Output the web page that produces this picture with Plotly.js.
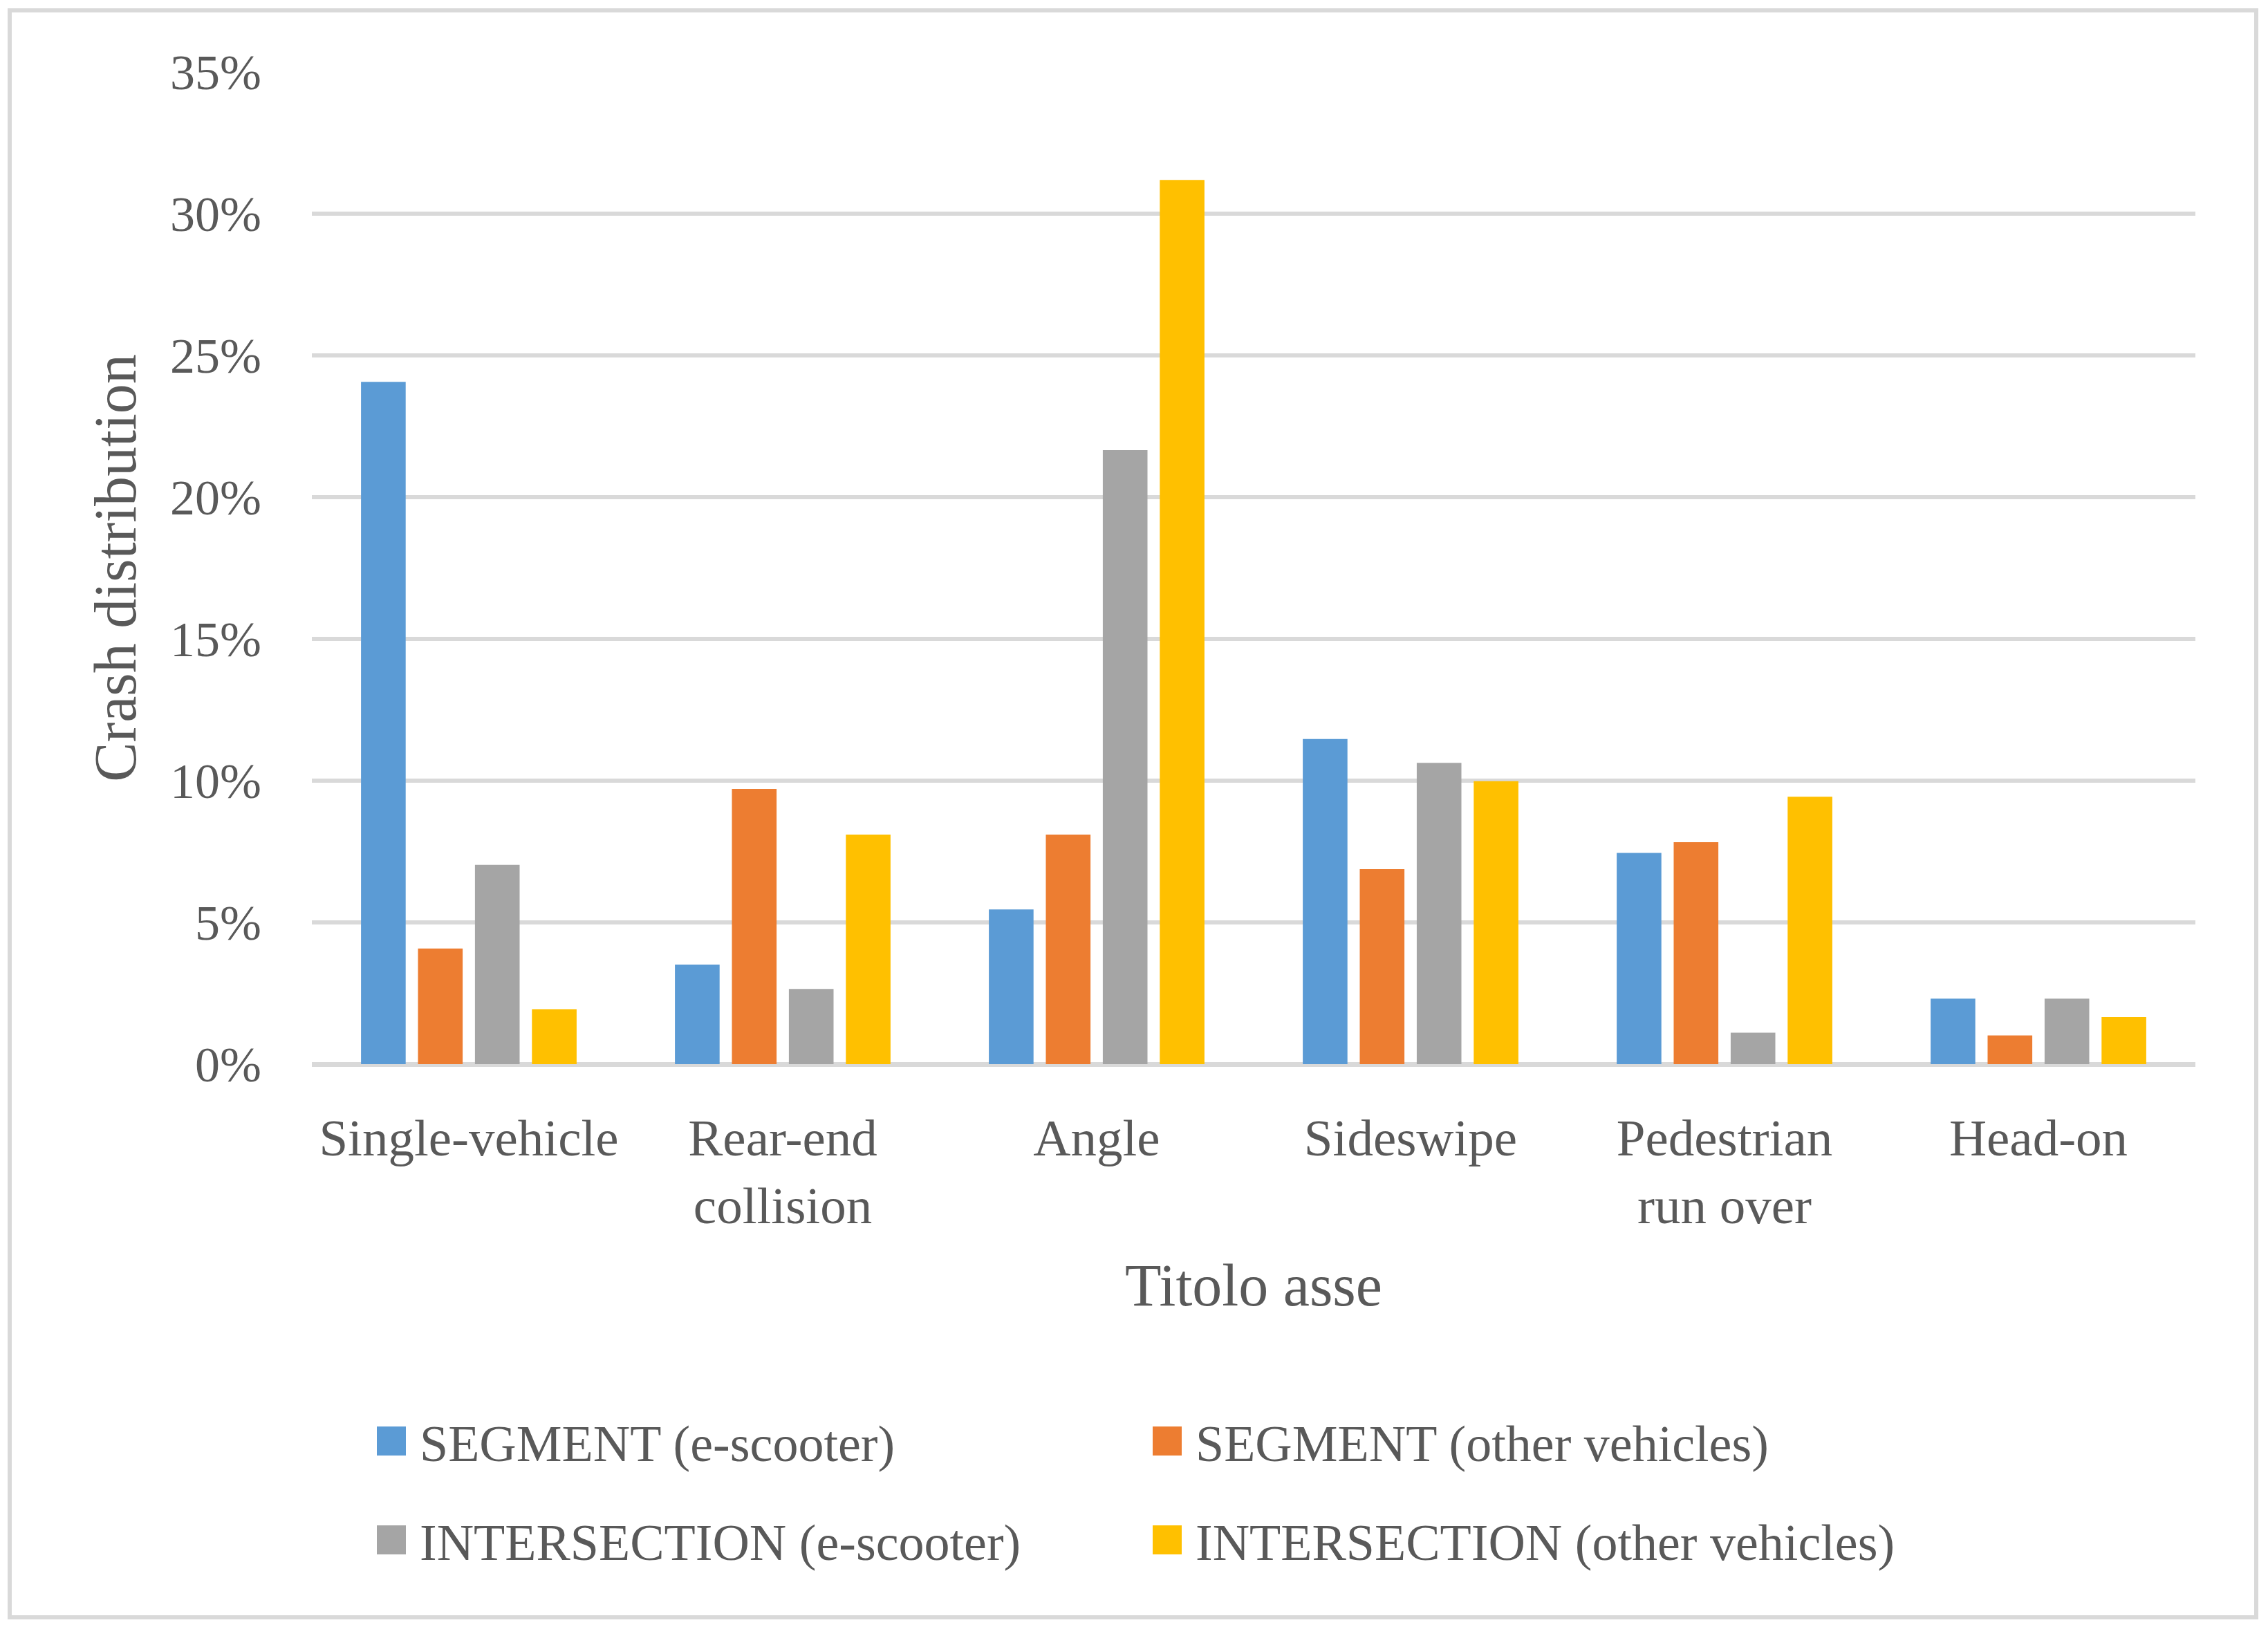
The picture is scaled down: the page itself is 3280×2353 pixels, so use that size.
<!DOCTYPE html>
<html>
<head>
<meta charset="utf-8">
<script src="https://cdn.plot.ly/plotly-3.0.1.min.js"></script>
<style>
  html, body { margin: 0; padding: 0; background: #ffffff; }
  #chart { width: 3280px; height: 2353px; }
</style>
</head>
<body>
<div id="chart"></div>
<script>
// ---- data (percent) ----
const categories = ['Single-vehicle', 'Rear-end<br>collision', 'Angle', 'Sideswipe', 'Pedestrian<br>run over', 'Head-on'];
const seriesNames = ['SEGMENT (e-scooter)', 'SEGMENT (other vehicles)', 'INTERSECTION (e-scooter)', 'INTERSECTION (other vehicles)'];
const segmentEscooter = [24.07, 3.51, 5.46, 11.47, 7.45, 2.31];
const segmentOther = [4.08, 9.71, 8.10, 6.88, 7.83, 1.01];
const intersectionEscooter = [7.03, 2.65, 21.66, 10.63, 1.11, 2.31];
const intersectionOther = [1.94, 8.10, 31.19, 9.98, 9.43, 1.66];
const yTickValues = [0, 5, 10, 15, 20, 25, 30, 35];
const yTickLabels = ['0%', '5%', '10%', '15%', '20%', '25%', '30%', '35%'];
const xAxisTitle = 'Titolo asse';
const yAxisTitle = 'Crash distribution';

// ---- style ----
const colors = ['#5B9BD5', '#ED7D31', '#A5A5A5', '#FFC000'];
const textColor = '#595959';
const gridColor = '#D9D9D9';
const fontFamily = '"Liberation Serif", "Times New Roman", serif';

const W = 3280, H = 2353;
const M = { l: 451, r: 105, t: 104, b: 814 };
const plotW = W - M.l - M.r, plotH = H - M.t - M.b;
const px = x => (x - M.l) / plotW;           // page px -> paper x
const py = y => (H - M.b - y) / plotH;       // page px -> paper y

const seriesValues = [segmentEscooter, segmentOther, intersectionEscooter, intersectionOther];

const traces = seriesValues.map((vals, i) => ({
  type: 'bar',
  name: seriesNames[i],
  x: categories,
  y: vals,
  marker: { color: colors[i], line: { width: 0 } },
  hoverinfo: 'x+y+name'
}));

// custom legend (2 x 2 grid)
const legendCols = [545, 1667];
const legendRows = [2084, 2227];
const swatch = 42;
const shapes = [{
  type: 'rect', xref: 'paper', yref: 'paper',
  x0: px(14), x1: px(3263), y0: py(2339), y1: py(15),
  line: { color: gridColor, width: 6 }, fillcolor: 'rgba(0,0,0,0)', layer: 'below'
}];
const annotations = [];
seriesNames.forEach((name, i) => {
  const cx = legendCols[i % 2];
  const cy = legendRows[Math.floor(i / 2)];
  shapes.push({
    type: 'rect', xref: 'paper', yref: 'paper',
    x0: px(cx), x1: px(cx + swatch), y0: py(cy + swatch / 2), y1: py(cy - swatch / 2),
    fillcolor: colors[i], line: { width: 0 }
  });
  annotations.push({
    xref: 'paper', yref: 'paper', x: px(cx + swatch + 18), y: py(cy + 4),
    xanchor: 'left', yanchor: 'middle', showarrow: false,
    text: name, font: { family: fontFamily, size: 74, color: textColor }
  });
});

const layout = {
  width: W, height: H,
  margin: M,
  paper_bgcolor: '#ffffff', plot_bgcolor: '#ffffff',
  font: { family: fontFamily, color: textColor, size: 72 },
  showlegend: false,
  barmode: 'group',
  bargap: 0.274,
  bargroupgap: 0.216,
  xaxis: {
    type: 'category',
    tickfont: { family: fontFamily, size: 75, color: textColor },
    ticks: '', showline: false, showgrid: false, zeroline: false,
    ticklabelstandoff: 56,
    automargin: false,
    title: { text: xAxisTitle, font: { family: fontFamily, size: 86, color: textColor }, standoff: 44 }
  },
  yaxis: {
    range: [0, 35],
    tickvals: yTickValues, ticktext: yTickLabels,
    tickfont: { family: fontFamily, size: 72, color: textColor },
    ticks: '', showline: false,
    showgrid: true, gridcolor: gridColor, gridwidth: 6,
    zeroline: true, zerolinecolor: gridColor, zerolinewidth: 7,
    ticklabelstandoff: 72,
    automargin: false,
    title: { text: yAxisTitle, font: { family: fontFamily, size: 86, color: textColor }, standoff: 20 }
  },
  shapes: shapes,
  annotations: annotations
};

Plotly.newPlot('chart', traces, layout, { displayModeBar: false, staticPlot: true });
</script>
</body>
</html>
